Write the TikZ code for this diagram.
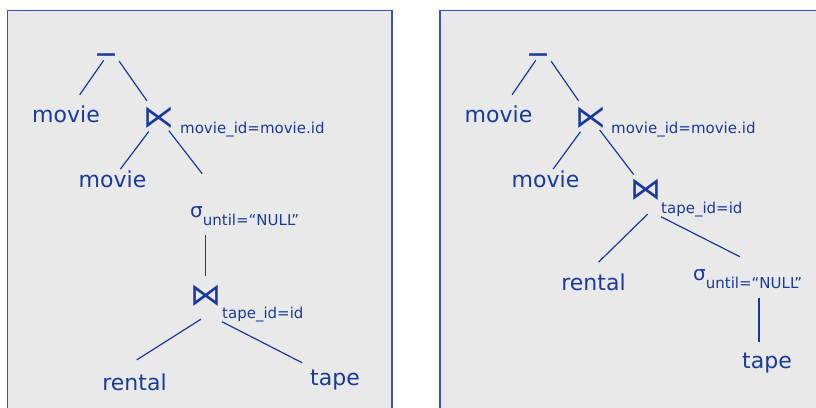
\documentclass[tikz,border=0pt]{standalone}
\usepackage{fontspec}
\setmainfont{DejaVu Sans}

\definecolor{treeblue}{RGB}{24,58,156}
\definecolor{panelblue}{RGB}{48,84,196}
\definecolor{panelgray}{RGB}{233,233,233}

\begin{document}
\begin{tikzpicture}[x=1pt,y=-1pt,
	rel/.style={inner sep=0,text=treeblue,font=\fontsize{22}{22}\selectfont},
	op/.style={inner sep=0,text=treeblue,font=\fontsize{31}{31}\selectfont},
	minus/.style={inner sep=0,text=treeblue,font=\bfseries\fontsize{20}{20}\selectfont},
	cond/.style={inner sep=0,text=treeblue,font=\fontsize{15}{15}\selectfont,anchor=base west},
	edge/.style={treeblue,line width=1.2pt},
	panel/.style={fill=panelgray,draw=panelblue,line width=1.5pt}]
			\useasboundingbox (0,0) rectangle (816,407);
			\clip (0,0) rectangle (816,407);
			\draw[panel] (7.5,10.5) rectangle (392,420);
			\draw[panel] (440,10.5) rectangle (830,420);
			
			% left plan
			\node[minus] (minL) at (106,57) {—};
			\node[rel] (movL1) at (66,114.5) {movie};
			\node[op] (sjL) at (159,118) {⋉};
			\node[cond] (condL1) at (180,133) {movie\_id=movie.id};
			\node[rel] (movL2) at (112.5,179.5) {movie};
			\node[rel,anchor=base west] (sigL) at (190,217) {\fontsize{20}{20}\selectfont σ\raisebox{-8pt}{\fontsize{15}{15}\selectfont until=“NULL”}};
			\node[op] (jnL) at (205.5,295.5) {⋈};
			\node[cond] (condL2) at (222,318) {tape\_id=id};
			\node[rel,anchor=base] (rentL) at (134.5,390) {rental};
			\node[rel,anchor=base] (tapeL) at (335,385) {tape};
			
			\draw[edge,shorten <=4pt,shorten >=24pt] (minL.center) to (movL1.center);
			\draw[edge,shorten <=5pt,shorten >=21pt] (minL.east) to (sjL.center);
			\draw[edge,shorten <=17pt,shorten >=13pt] (sjL.center) to (movL2.center);
			\draw[edge,shorten <=16pt,shorten >=53pt] (sjL.center) to ([xshift=-10pt]sigL.center);
			\draw[edge,shorten <=10pt,shorten >=9pt] (sigL.south -| jnL.north) to (jnL.north);
			\draw[edge,shorten <=24pt,shorten >=41pt] (jnL.south east) to (rentL.west);
			\draw[edge,shorten >=37pt] (condL2.south west) to (tapeL.center);
			
			% right plan
			\node[minus] (minR) at (538,57) {—};
			\node[rel] (movR1) at (498.5,114.5) {movie};
			\node[op] (sjR) at (590.5,118) {⋉};
			\node[cond] (condR1) at (611,133) {movie\_id=movie.id};
			\node[rel] (movR2) at (545.5,179.5) {movie};
			\node[op] (jnR) at (645.5,190) {⋈};
			\node[cond] (condR2) at (661,213) {tape\_id=id};
			\node[rel,anchor=base] (rentR) at (593.5,290) {rental};
			\node[rel,anchor=base west] (sigR) at (693,280) {\fontsize{20}{20}\selectfont σ\raisebox{-8pt}{\fontsize{15}{15}\selectfont until=“NULL”}};
			\node[rel,anchor=base] (tapeR) at (767,368) {tape};
			
			\draw[edge,shorten <=4pt,shorten >=24pt] (minR.center) to (movR1.center);
			\draw[edge,shorten <=5pt,shorten >=21pt] (minR.east) to (sjR.center);
			\draw[edge,shorten <=17pt,shorten >=13pt] (sjR.center) to (movR2.center);
			\draw[edge,shorten <=15pt,shorten >=19.5pt] (sjR.center) to (jnR.center);
			\draw[edge,shorten <=19pt,shorten >=28pt] (jnR.south east) to ([xshift=-15pt]rentR.center);
			\draw[edge,shorten >=70pt] (condR2.south west) to (sigR.south east);
			\draw[edge,shorten <=10pt,shorten >=10pt] ([xshift=-8pt]tapeR.north) to ([xshift=-8pt]tapeR.north |- sigR.south);
\end{tikzpicture}
\end{document}
